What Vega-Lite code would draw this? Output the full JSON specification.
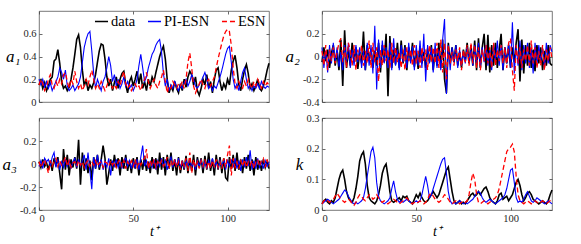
{
"$schema": "https://vega.github.io/schema/vega-lite/v6.json",
"padding": {"left": 1, "top": 10, "right": 5, "bottom": 3},
"datasets": {
"a1d": [{"t":0,"v":0.15},{"t":1,"v":0.19},{"t":2,"v":0.12},{"t":3,"v":0.17},{"t":4,"v":0.1},{"t":5,"v":0.14},{"t":6,"v":0.2},{"t":7,"v":0.22},{"t":8,"v":0.36},{"t":9,"v":0.38},{"t":10,"v":0.46},{"t":11,"v":0.34},{"t":12,"v":0.18},{"t":13,"v":0.12},{"t":14,"v":0.14},{"t":15,"v":0.1},{"t":16,"v":0.13},{"t":17,"v":0.2},{"t":18,"v":0.3},{"t":19,"v":0.42},{"t":20,"v":0.55},{"t":21,"v":0.59},{"t":22,"v":0.48},{"t":23,"v":0.28},{"t":24,"v":0.14},{"t":25,"v":0.2},{"t":26,"v":0.1},{"t":27,"v":0.15},{"t":28,"v":0.12},{"t":29,"v":0.17},{"t":30,"v":0.24},{"t":31,"v":0.35},{"t":32,"v":0.45},{"t":33,"v":0.51},{"t":34,"v":0.5},{"t":35,"v":0.38},{"t":36,"v":0.22},{"t":37,"v":0.14},{"t":38,"v":0.2},{"t":39,"v":0.1},{"t":40,"v":0.17},{"t":41,"v":0.22},{"t":42,"v":0.12},{"t":43,"v":0.2},{"t":44,"v":0.25},{"t":45,"v":0.27},{"t":46,"v":0.15},{"t":47,"v":0.08},{"t":48,"v":0.18},{"t":49,"v":0.22},{"t":50,"v":0.14},{"t":51,"v":0.2},{"t":52,"v":0.27},{"t":53,"v":0.16},{"t":54,"v":0.25},{"t":55,"v":0.12},{"t":56,"v":0.18},{"t":57,"v":0.1},{"t":58,"v":0.2},{"t":59,"v":0.14},{"t":60,"v":0.22},{"t":61,"v":0.18},{"t":62,"v":0.26},{"t":63,"v":0.33},{"t":64,"v":0.4},{"t":65,"v":0.45},{"t":66,"v":0.49},{"t":67,"v":0.38},{"t":68,"v":0.2},{"t":69,"v":0.08},{"t":70,"v":0.14},{"t":71,"v":0.1},{"t":72,"v":0.18},{"t":73,"v":0.12},{"t":74,"v":0.08},{"t":75,"v":0.16},{"t":76,"v":0.1},{"t":77,"v":0.2},{"t":78,"v":0.13},{"t":79,"v":0.22},{"t":80,"v":0.27},{"t":81,"v":0.24},{"t":82,"v":0.15},{"t":83,"v":0.22},{"t":84,"v":0.1},{"t":85,"v":0.06},{"t":86,"v":0.12},{"t":87,"v":0.2},{"t":88,"v":0.15},{"t":89,"v":0.24},{"t":90,"v":0.12},{"t":91,"v":0.18},{"t":92,"v":0.08},{"t":93,"v":0.2},{"t":94,"v":0.28},{"t":95,"v":0.3},{"t":96,"v":0.18},{"t":97,"v":0.1},{"t":98,"v":0.16},{"t":99,"v":0.12},{"t":100,"v":0.2},{"t":101,"v":0.15},{"t":102,"v":0.28},{"t":103,"v":0.36},{"t":104,"v":0.41},{"t":105,"v":0.3},{"t":106,"v":0.15},{"t":107,"v":0.1},{"t":108,"v":0.2},{"t":109,"v":0.28},{"t":110,"v":0.33},{"t":111,"v":0.25},{"t":112,"v":0.12},{"t":113,"v":0.16},{"t":114,"v":0.1},{"t":115,"v":0.14},{"t":116,"v":0.2},{"t":117,"v":0.12},{"t":118,"v":0.1},{"t":119,"v":0.14},{"t":120,"v":0.2},{"t":121,"v":0.28},{"t":122,"v":0.34}],
"a1p": [{"t":0,"v":0.2},{"t":1,"v":0.15},{"t":2,"v":0.2},{"t":3,"v":0.13},{"t":4,"v":0.18},{"t":5,"v":0.12},{"t":6,"v":0.17},{"t":7,"v":0.1},{"t":8,"v":0.14},{"t":9,"v":0.18},{"t":10,"v":0.22},{"t":11,"v":0.3},{"t":12,"v":0.26},{"t":13,"v":0.2},{"t":14,"v":0.28},{"t":15,"v":0.14},{"t":16,"v":0.1},{"t":17,"v":0.12},{"t":18,"v":0.15},{"t":19,"v":0.1},{"t":20,"v":0.13},{"t":21,"v":0.16},{"t":22,"v":0.22},{"t":23,"v":0.35},{"t":24,"v":0.48},{"t":25,"v":0.55},{"t":26,"v":0.6},{"t":27,"v":0.62},{"t":28,"v":0.45},{"t":29,"v":0.25},{"t":30,"v":0.12},{"t":31,"v":0.2},{"t":32,"v":0.15},{"t":33,"v":0.1},{"t":34,"v":0.18},{"t":35,"v":0.22},{"t":36,"v":0.3},{"t":37,"v":0.4},{"t":38,"v":0.32},{"t":39,"v":0.18},{"t":40,"v":0.24},{"t":41,"v":0.14},{"t":42,"v":0.2},{"t":43,"v":0.12},{"t":44,"v":0.16},{"t":45,"v":0.22},{"t":46,"v":0.14},{"t":47,"v":0.18},{"t":48,"v":0.12},{"t":49,"v":0.15},{"t":50,"v":0.1},{"t":51,"v":0.14},{"t":52,"v":0.2},{"t":53,"v":0.32},{"t":54,"v":0.42},{"t":55,"v":0.3},{"t":56,"v":0.18},{"t":57,"v":0.22},{"t":58,"v":0.3},{"t":59,"v":0.36},{"t":60,"v":0.42},{"t":61,"v":0.45},{"t":62,"v":0.5},{"t":63,"v":0.53},{"t":64,"v":0.55},{"t":65,"v":0.44},{"t":66,"v":0.25},{"t":67,"v":0.14},{"t":68,"v":0.2},{"t":69,"v":0.1},{"t":70,"v":0.15},{"t":71,"v":0.12},{"t":72,"v":0.18},{"t":73,"v":0.13},{"t":74,"v":0.1},{"t":75,"v":0.15},{"t":76,"v":0.12},{"t":77,"v":0.17},{"t":78,"v":0.2},{"t":79,"v":0.14},{"t":80,"v":0.18},{"t":81,"v":0.24},{"t":82,"v":0.2},{"t":83,"v":0.14},{"t":84,"v":0.12},{"t":85,"v":0.15},{"t":86,"v":0.18},{"t":87,"v":0.22},{"t":88,"v":0.26},{"t":89,"v":0.2},{"t":90,"v":0.12},{"t":91,"v":0.15},{"t":92,"v":0.1},{"t":93,"v":0.14},{"t":94,"v":0.12},{"t":95,"v":0.17},{"t":96,"v":0.22},{"t":97,"v":0.28},{"t":98,"v":0.35},{"t":99,"v":0.42},{"t":100,"v":0.47},{"t":101,"v":0.49},{"t":102,"v":0.35},{"t":103,"v":0.2},{"t":104,"v":0.12},{"t":105,"v":0.16},{"t":106,"v":0.1},{"t":107,"v":0.18},{"t":108,"v":0.26},{"t":109,"v":0.3},{"t":110,"v":0.2},{"t":111,"v":0.12},{"t":112,"v":0.15},{"t":113,"v":0.1},{"t":114,"v":0.14},{"t":115,"v":0.12},{"t":116,"v":0.16},{"t":117,"v":0.12},{"t":118,"v":0.18},{"t":119,"v":0.14},{"t":120,"v":0.12},{"t":121,"v":0.14},{"t":122,"v":0.13}],
"a1e": [{"t":0,"v":0.15},{"t":1,"v":0.2},{"t":2,"v":0.16},{"t":3,"v":0.1},{"t":4,"v":0.13},{"t":5,"v":0.2},{"t":6,"v":0.24},{"t":7,"v":0.15},{"t":8,"v":0.12},{"t":9,"v":0.18},{"t":10,"v":0.14},{"t":11,"v":0.2},{"t":12,"v":0.16},{"t":13,"v":0.24},{"t":14,"v":0.26},{"t":15,"v":0.18},{"t":16,"v":0.12},{"t":17,"v":0.2},{"t":18,"v":0.16},{"t":19,"v":0.27},{"t":20,"v":0.18},{"t":21,"v":0.12},{"t":22,"v":0.16},{"t":23,"v":0.1},{"t":24,"v":0.14},{"t":25,"v":0.2},{"t":26,"v":0.15},{"t":27,"v":0.22},{"t":28,"v":0.28},{"t":29,"v":0.2},{"t":30,"v":0.12},{"t":31,"v":0.16},{"t":32,"v":0.12},{"t":33,"v":0.18},{"t":34,"v":0.14},{"t":35,"v":0.1},{"t":36,"v":0.14},{"t":37,"v":0.2},{"t":38,"v":0.16},{"t":39,"v":0.12},{"t":40,"v":0.15},{"t":41,"v":0.12},{"t":42,"v":0.18},{"t":43,"v":0.14},{"t":44,"v":0.22},{"t":45,"v":0.27},{"t":46,"v":0.16},{"t":47,"v":0.12},{"t":48,"v":0.15},{"t":49,"v":0.1},{"t":50,"v":0.13},{"t":51,"v":0.16},{"t":52,"v":0.12},{"t":53,"v":0.14},{"t":54,"v":0.1},{"t":55,"v":0.16},{"t":56,"v":0.2},{"t":57,"v":0.26},{"t":58,"v":0.18},{"t":59,"v":0.12},{"t":60,"v":0.16},{"t":61,"v":0.2},{"t":62,"v":0.15},{"t":63,"v":0.12},{"t":64,"v":0.18},{"t":65,"v":0.22},{"t":66,"v":0.28},{"t":67,"v":0.18},{"t":68,"v":0.08},{"t":69,"v":0.14},{"t":70,"v":0.12},{"t":71,"v":0.18},{"t":72,"v":0.15},{"t":73,"v":0.12},{"t":74,"v":0.16},{"t":75,"v":0.14},{"t":76,"v":0.18},{"t":77,"v":0.12},{"t":78,"v":0.2},{"t":79,"v":0.35},{"t":80,"v":0.43},{"t":81,"v":0.3},{"t":82,"v":0.14},{"t":83,"v":0.08},{"t":84,"v":0.12},{"t":85,"v":0.16},{"t":86,"v":0.2},{"t":87,"v":0.15},{"t":88,"v":0.12},{"t":89,"v":0.18},{"t":90,"v":0.2},{"t":91,"v":0.14},{"t":92,"v":0.18},{"t":93,"v":0.22},{"t":94,"v":0.3},{"t":95,"v":0.38},{"t":96,"v":0.45},{"t":97,"v":0.52},{"t":98,"v":0.58},{"t":99,"v":0.62},{"t":100,"v":0.64},{"t":101,"v":0.62},{"t":102,"v":0.5},{"t":103,"v":0.3},{"t":104,"v":0.16},{"t":105,"v":0.12},{"t":106,"v":0.18},{"t":107,"v":0.14},{"t":108,"v":0.12},{"t":109,"v":0.18},{"t":110,"v":0.14},{"t":111,"v":0.2},{"t":112,"v":0.15},{"t":113,"v":0.12},{"t":114,"v":0.18},{"t":115,"v":0.14},{"t":116,"v":0.2},{"t":117,"v":0.16},{"t":118,"v":0.12},{"t":119,"v":0.18},{"t":120,"v":0.14},{"t":121,"v":0.17},{"t":122,"v":0.15}],
"a2d": [{"t":0,"v":-0.05},{"t":1,"v":0.08},{"t":2,"v":-0.04},{"t":3,"v":0.06},{"t":4,"v":-0.1},{"t":5,"v":0.03},{"t":6,"v":0.1},{"t":7,"v":-0.08},{"t":8,"v":0.05},{"t":9,"v":-0.12},{"t":10,"v":0.15},{"t":11,"v":-0.26},{"t":12,"v":0.23},{"t":13,"v":-0.1},{"t":14,"v":0.06},{"t":15,"v":-0.08},{"t":16,"v":0.12},{"t":17,"v":-0.05},{"t":18,"v":0.08},{"t":19,"v":-0.11},{"t":20,"v":0.04},{"t":21,"v":-0.06},{"t":22,"v":0.22},{"t":23,"v":-0.12},{"t":24,"v":0.1},{"t":25,"v":-0.04},{"t":26,"v":0.07},{"t":27,"v":-0.1},{"t":28,"v":0.05},{"t":29,"v":-0.08},{"t":30,"v":0.12},{"t":31,"v":-0.14},{"t":32,"v":0.1},{"t":33,"v":-0.05},{"t":34,"v":0.2},{"t":35,"v":-0.35},{"t":36,"v":0.18},{"t":37,"v":-0.1},{"t":38,"v":0.06},{"t":39,"v":-0.07},{"t":40,"v":0.12},{"t":41,"v":-0.1},{"t":42,"v":0.14},{"t":43,"v":-0.06},{"t":44,"v":0.1},{"t":45,"v":-0.12},{"t":46,"v":0.08},{"t":47,"v":-0.04},{"t":48,"v":0.12},{"t":49,"v":-0.09},{"t":50,"v":0.05},{"t":51,"v":-0.11},{"t":52,"v":0.09},{"t":53,"v":-0.06},{"t":54,"v":0.04},{"t":55,"v":-0.1},{"t":56,"v":0.07},{"t":57,"v":-0.05},{"t":58,"v":0.1},{"t":59,"v":-0.12},{"t":60,"v":0.06},{"t":61,"v":-0.08},{"t":62,"v":0.12},{"t":63,"v":-0.1},{"t":64,"v":0.15},{"t":65,"v":-0.2},{"t":66,"v":-0.32},{"t":67,"v":0.12},{"t":68,"v":-0.06},{"t":69,"v":0.08},{"t":70,"v":-0.05},{"t":71,"v":0.1},{"t":72,"v":-0.08},{"t":73,"v":0.04},{"t":74,"v":-0.1},{"t":75,"v":0.06},{"t":76,"v":-0.04},{"t":77,"v":0.12},{"t":78,"v":-0.06},{"t":79,"v":0.1},{"t":80,"v":-0.08},{"t":81,"v":0.14},{"t":82,"v":-0.12},{"t":83,"v":0.16},{"t":84,"v":-0.1},{"t":85,"v":0.08},{"t":86,"v":0.2},{"t":87,"v":-0.12},{"t":88,"v":0.19},{"t":89,"v":-0.14},{"t":90,"v":0.1},{"t":91,"v":-0.08},{"t":92,"v":0.12},{"t":93,"v":-0.1},{"t":94,"v":0.06},{"t":95,"v":0.2},{"t":96,"v":-0.12},{"t":97,"v":0.08},{"t":98,"v":-0.06},{"t":99,"v":0.1},{"t":100,"v":-0.1},{"t":101,"v":0.08},{"t":102,"v":-0.05},{"t":103,"v":0.12},{"t":104,"v":0.24},{"t":105,"v":-0.22},{"t":106,"v":0.15},{"t":107,"v":-0.15},{"t":108,"v":0.1},{"t":109,"v":-0.08},{"t":110,"v":0.12},{"t":111,"v":-0.1},{"t":112,"v":0.06},{"t":113,"v":-0.13},{"t":114,"v":0.1},{"t":115,"v":-0.06},{"t":116,"v":0.08},{"t":117,"v":-0.12},{"t":118,"v":0.05},{"t":119,"v":-0.08},{"t":120,"v":0.1},{"t":121,"v":-0.06},{"t":122,"v":-0.08}],
"a2p": [{"t":0,"v":0.08},{"t":1,"v":-0.1},{"t":2,"v":0.05},{"t":3,"v":-0.14},{"t":4,"v":0.1},{"t":5,"v":-0.06},{"t":6,"v":0.12},{"t":7,"v":-0.04},{"t":8,"v":0.08},{"t":9,"v":-0.09},{"t":10,"v":0.04},{"t":11,"v":-0.12},{"t":12,"v":0.1},{"t":13,"v":-0.05},{"t":14,"v":0.12},{"t":15,"v":-0.1},{"t":16,"v":0.06},{"t":17,"v":-0.08},{"t":18,"v":0.1},{"t":19,"v":-0.05},{"t":20,"v":0.08},{"t":21,"v":-0.1},{"t":22,"v":0.05},{"t":23,"v":-0.12},{"t":24,"v":0.12},{"t":25,"v":-0.08},{"t":26,"v":0.1},{"t":27,"v":-0.15},{"t":28,"v":0.27},{"t":29,"v":-0.29},{"t":30,"v":0.15},{"t":31,"v":-0.1},{"t":32,"v":0.14},{"t":33,"v":-0.06},{"t":34,"v":0.08},{"t":35,"v":-0.1},{"t":36,"v":0.12},{"t":37,"v":-0.12},{"t":38,"v":0.16},{"t":39,"v":-0.08},{"t":40,"v":0.06},{"t":41,"v":-0.12},{"t":42,"v":0.1},{"t":43,"v":-0.05},{"t":44,"v":0.08},{"t":45,"v":-0.1},{"t":46,"v":0.12},{"t":47,"v":-0.06},{"t":48,"v":0.09},{"t":49,"v":-0.12},{"t":50,"v":0.1},{"t":51,"v":-0.08},{"t":52,"v":0.14},{"t":53,"v":-0.1},{"t":54,"v":0.2},{"t":55,"v":-0.22},{"t":56,"v":0.1},{"t":57,"v":-0.06},{"t":58,"v":0.08},{"t":59,"v":-0.14},{"t":60,"v":0.12},{"t":61,"v":-0.1},{"t":62,"v":0.06},{"t":63,"v":-0.12},{"t":64,"v":0.15},{"t":65,"v":0.33},{"t":66,"v":-0.33},{"t":67,"v":0.1},{"t":68,"v":-0.12},{"t":69,"v":0.08},{"t":70,"v":-0.05},{"t":71,"v":0.1},{"t":72,"v":-0.1},{"t":73,"v":0.06},{"t":74,"v":-0.08},{"t":75,"v":0.05},{"t":76,"v":-0.06},{"t":77,"v":0.08},{"t":78,"v":-0.04},{"t":79,"v":0.06},{"t":80,"v":-0.08},{"t":81,"v":0.1},{"t":82,"v":-0.06},{"t":83,"v":0.12},{"t":84,"v":-0.1},{"t":85,"v":0.08},{"t":86,"v":-0.05},{"t":87,"v":0.1},{"t":88,"v":-0.08},{"t":89,"v":0.06},{"t":90,"v":-0.12},{"t":91,"v":0.1},{"t":92,"v":-0.04},{"t":93,"v":0.14},{"t":94,"v":-0.08},{"t":95,"v":0.1},{"t":96,"v":-0.12},{"t":97,"v":0.08},{"t":98,"v":-0.06},{"t":99,"v":0.12},{"t":100,"v":-0.1},{"t":101,"v":0.3},{"t":102,"v":-0.15},{"t":103,"v":0.1},{"t":104,"v":-0.08},{"t":105,"v":0.14},{"t":106,"v":-0.12},{"t":107,"v":0.1},{"t":108,"v":-0.06},{"t":109,"v":0.12},{"t":110,"v":-0.1},{"t":111,"v":0.08},{"t":112,"v":-0.15},{"t":113,"v":0.12},{"t":114,"v":-0.08},{"t":115,"v":0.1},{"t":116,"v":-0.05},{"t":117,"v":0.08},{"t":118,"v":-0.1},{"t":119,"v":0.12},{"t":120,"v":-0.06},{"t":121,"v":0.1},{"t":122,"v":0.04}],
"a2e": [{"t":0,"v":0.05},{"t":1,"v":-0.08},{"t":2,"v":0.1},{"t":3,"v":-0.12},{"t":4,"v":0.06},{"t":5,"v":-0.04},{"t":6,"v":0.08},{"t":7,"v":-0.06},{"t":8,"v":0.04},{"t":9,"v":0.12},{"t":10,"v":0.16},{"t":11,"v":-0.05},{"t":12,"v":0.08},{"t":13,"v":-0.1},{"t":14,"v":0.12},{"t":15,"v":0.05},{"t":16,"v":-0.08},{"t":17,"v":0.1},{"t":18,"v":-0.12},{"t":19,"v":0.06},{"t":20,"v":-0.04},{"t":21,"v":0.1},{"t":22,"v":-0.08},{"t":23,"v":0.05},{"t":24,"v":-0.06},{"t":25,"v":0.14},{"t":26,"v":-0.1},{"t":27,"v":0.12},{"t":28,"v":-0.05},{"t":29,"v":0.08},{"t":30,"v":-0.22},{"t":31,"v":0.06},{"t":32,"v":-0.08},{"t":33,"v":0.1},{"t":34,"v":-0.04},{"t":35,"v":0.06},{"t":36,"v":-0.1},{"t":37,"v":0.12},{"t":38,"v":-0.06},{"t":39,"v":0.08},{"t":40,"v":-0.05},{"t":41,"v":0.04},{"t":42,"v":-0.1},{"t":43,"v":0.06},{"t":44,"v":-0.12},{"t":45,"v":0.08},{"t":46,"v":-0.04},{"t":47,"v":0.06},{"t":48,"v":-0.08},{"t":49,"v":0.1},{"t":50,"v":-0.06},{"t":51,"v":0.05},{"t":52,"v":-0.1},{"t":53,"v":0.08},{"t":54,"v":-0.04},{"t":55,"v":0.06},{"t":56,"v":-0.12},{"t":57,"v":0.1},{"t":58,"v":-0.05},{"t":59,"v":0.08},{"t":60,"v":-0.06},{"t":61,"v":0.12},{"t":62,"v":-0.1},{"t":63,"v":0.15},{"t":64,"v":-0.14},{"t":65,"v":0.12},{"t":66,"v":-0.2},{"t":67,"v":0.1},{"t":68,"v":-0.06},{"t":69,"v":0.04},{"t":70,"v":-0.08},{"t":71,"v":0.06},{"t":72,"v":-0.04},{"t":73,"v":0.08},{"t":74,"v":-0.12},{"t":75,"v":0.06},{"t":76,"v":-0.05},{"t":77,"v":0.1},{"t":78,"v":-0.08},{"t":79,"v":0.12},{"t":80,"v":-0.06},{"t":81,"v":0.1},{"t":82,"v":-0.1},{"t":83,"v":0.08},{"t":84,"v":-0.12},{"t":85,"v":0.06},{"t":86,"v":-0.04},{"t":87,"v":0.1},{"t":88,"v":-0.06},{"t":89,"v":0.08},{"t":90,"v":-0.1},{"t":91,"v":0.12},{"t":92,"v":-0.08},{"t":93,"v":0.06},{"t":94,"v":-0.04},{"t":95,"v":0.1},{"t":96,"v":-0.06},{"t":97,"v":0.08},{"t":98,"v":-0.1},{"t":99,"v":0.12},{"t":100,"v":0.16},{"t":101,"v":-0.12},{"t":102,"v":-0.3},{"t":103,"v":0.1},{"t":104,"v":-0.06},{"t":105,"v":0.08},{"t":106,"v":-0.1},{"t":107,"v":0.06},{"t":108,"v":-0.04},{"t":109,"v":0.1},{"t":110,"v":-0.08},{"t":111,"v":0.14},{"t":112,"v":-0.06},{"t":113,"v":0.08},{"t":114,"v":-0.1},{"t":115,"v":0.05},{"t":116,"v":-0.08},{"t":117,"v":0.1},{"t":118,"v":-0.12},{"t":119,"v":0.06},{"t":120,"v":-0.04},{"t":121,"v":0.08},{"t":122,"v":-0.02}],
"a3d": [{"t":0,"v":0.02},{"t":1,"v":-0.03},{"t":2,"v":0.04},{"t":3,"v":-0.02},{"t":4,"v":0.01},{"t":5,"v":-0.05},{"t":6,"v":0.03},{"t":7,"v":-0.06},{"t":8,"v":0.05},{"t":9,"v":-0.02},{"t":10,"v":0.06},{"t":11,"v":-0.08},{"t":12,"v":-0.22},{"t":13,"v":0.13},{"t":14,"v":-0.05},{"t":15,"v":0.08},{"t":16,"v":-0.1},{"t":17,"v":0.04},{"t":18,"v":-0.03},{"t":19,"v":0.06},{"t":20,"v":-0.04},{"t":21,"v":0.21},{"t":22,"v":-0.18},{"t":23,"v":0.1},{"t":24,"v":-0.06},{"t":25,"v":0.05},{"t":26,"v":-0.08},{"t":27,"v":0.03},{"t":28,"v":-0.14},{"t":29,"v":0.06},{"t":30,"v":-0.04},{"t":31,"v":0.08},{"t":32,"v":-0.05},{"t":33,"v":0.04},{"t":34,"v":0.16},{"t":35,"v":0.05},{"t":36,"v":-0.18},{"t":37,"v":-0.08},{"t":38,"v":0.04},{"t":39,"v":-0.06},{"t":40,"v":0.08},{"t":41,"v":-0.03},{"t":42,"v":0.05},{"t":43,"v":-0.1},{"t":44,"v":0.06},{"t":45,"v":-0.04},{"t":46,"v":0.08},{"t":47,"v":-0.06},{"t":48,"v":0.03},{"t":49,"v":-0.08},{"t":50,"v":0.05},{"t":51,"v":-0.04},{"t":52,"v":0.06},{"t":53,"v":-0.1},{"t":54,"v":0.04},{"t":55,"v":-0.05},{"t":56,"v":0.07},{"t":57,"v":-0.06},{"t":58,"v":0.02},{"t":59,"v":-0.08},{"t":60,"v":0.06},{"t":61,"v":-0.04},{"t":62,"v":0.05},{"t":63,"v":-0.09},{"t":64,"v":0.1},{"t":65,"v":-0.05},{"t":66,"v":0.06},{"t":67,"v":-0.1},{"t":68,"v":0.08},{"t":69,"v":-0.04},{"t":70,"v":0.1},{"t":71,"v":-0.06},{"t":72,"v":0.04},{"t":73,"v":-0.1},{"t":74,"v":0.06},{"t":75,"v":-0.08},{"t":76,"v":0.03},{"t":77,"v":-0.05},{"t":78,"v":0.07},{"t":79,"v":-0.08},{"t":80,"v":0.05},{"t":81,"v":-0.06},{"t":82,"v":0.08},{"t":83,"v":-0.1},{"t":84,"v":0.06},{"t":85,"v":-0.03},{"t":86,"v":0.05},{"t":87,"v":-0.08},{"t":88,"v":0.07},{"t":89,"v":-0.05},{"t":90,"v":0.1},{"t":91,"v":-0.06},{"t":92,"v":0.04},{"t":93,"v":-0.1},{"t":94,"v":0.08},{"t":95,"v":-0.05},{"t":96,"v":0.06},{"t":97,"v":-0.08},{"t":98,"v":0.05},{"t":99,"v":-0.12},{"t":100,"v":-0.14},{"t":101,"v":0.06},{"t":102,"v":-0.04},{"t":103,"v":0.08},{"t":104,"v":-0.06},{"t":105,"v":0.1},{"t":106,"v":-0.05},{"t":107,"v":0.04},{"t":108,"v":-0.08},{"t":109,"v":0.06},{"t":110,"v":-0.04},{"t":111,"v":0.08},{"t":112,"v":-0.06},{"t":113,"v":0.04},{"t":114,"v":-0.1},{"t":115,"v":0.06},{"t":116,"v":-0.05},{"t":117,"v":0.03},{"t":118,"v":-0.06},{"t":119,"v":0.04},{"t":120,"v":-0.03},{"t":121,"v":0.02},{"t":122,"v":-0.04}],
"a3p": [{"t":0,"v":-0.02},{"t":1,"v":0.03},{"t":2,"v":-0.04},{"t":3,"v":0.05},{"t":4,"v":0.02},{"t":5,"v":0.04},{"t":6,"v":-0.02},{"t":7,"v":0.06},{"t":8,"v":0.1},{"t":9,"v":-0.03},{"t":10,"v":0.04},{"t":11,"v":-0.05},{"t":12,"v":0.02},{"t":13,"v":-0.03},{"t":14,"v":0.04},{"t":15,"v":-0.02},{"t":16,"v":0.03},{"t":17,"v":-0.04},{"t":18,"v":0.02},{"t":19,"v":0.05},{"t":20,"v":-0.03},{"t":21,"v":0.04},{"t":22,"v":-0.02},{"t":23,"v":0.03},{"t":24,"v":0.08},{"t":25,"v":-0.05},{"t":26,"v":0.1},{"t":27,"v":-0.06},{"t":28,"v":-0.22},{"t":29,"v":0.06},{"t":30,"v":-0.04},{"t":31,"v":0.08},{"t":32,"v":-0.03},{"t":33,"v":0.04},{"t":34,"v":-0.05},{"t":35,"v":0.02},{"t":36,"v":-0.03},{"t":37,"v":0.05},{"t":38,"v":-0.1},{"t":39,"v":0.03},{"t":40,"v":-0.02},{"t":41,"v":0.04},{"t":42,"v":-0.03},{"t":43,"v":0.02},{"t":44,"v":-0.04},{"t":45,"v":0.03},{"t":46,"v":0.05},{"t":47,"v":-0.02},{"t":48,"v":0.03},{"t":49,"v":-0.04},{"t":50,"v":0.02},{"t":51,"v":-0.03},{"t":52,"v":0.04},{"t":53,"v":-0.05},{"t":54,"v":0.06},{"t":55,"v":0.16},{"t":56,"v":-0.02},{"t":57,"v":0.03},{"t":58,"v":-0.04},{"t":59,"v":0.02},{"t":60,"v":-0.03},{"t":61,"v":0.04},{"t":62,"v":-0.05},{"t":63,"v":0.03},{"t":64,"v":-0.02},{"t":65,"v":0.05},{"t":66,"v":-0.03},{"t":67,"v":0.04},{"t":68,"v":-0.05},{"t":69,"v":0.02},{"t":70,"v":0.06},{"t":71,"v":-0.03},{"t":72,"v":0.04},{"t":73,"v":-0.02},{"t":74,"v":0.05},{"t":75,"v":-0.03},{"t":76,"v":0.02},{"t":77,"v":-0.04},{"t":78,"v":0.03},{"t":79,"v":-0.02},{"t":80,"v":0.04},{"t":81,"v":-0.03},{"t":82,"v":0.02},{"t":83,"v":-0.05},{"t":84,"v":0.03},{"t":85,"v":-0.02},{"t":86,"v":0.04},{"t":87,"v":-0.03},{"t":88,"v":0.02},{"t":89,"v":-0.04},{"t":90,"v":0.03},{"t":91,"v":-0.02},{"t":92,"v":0.05},{"t":93,"v":-0.03},{"t":94,"v":0.02},{"t":95,"v":-0.04},{"t":96,"v":0.03},{"t":97,"v":-0.02},{"t":98,"v":0.04},{"t":99,"v":-0.05},{"t":100,"v":0.03},{"t":101,"v":-0.02},{"t":102,"v":0.04},{"t":103,"v":-0.03},{"t":104,"v":0.05},{"t":105,"v":-0.04},{"t":106,"v":0.03},{"t":107,"v":-0.06},{"t":108,"v":0.04},{"t":109,"v":-0.03},{"t":110,"v":0.06},{"t":111,"v":-0.02},{"t":112,"v":0.12},{"t":113,"v":-0.05},{"t":114,"v":0.03},{"t":115,"v":-0.04},{"t":116,"v":0.05},{"t":117,"v":-0.03},{"t":118,"v":0.02},{"t":119,"v":-0.04},{"t":120,"v":0.03},{"t":121,"v":-0.02},{"t":122,"v":0.02}],
"a3e": [{"t":0,"v":0.02},{"t":1,"v":-0.03},{"t":2,"v":0.01},{"t":3,"v":0.04},{"t":4,"v":-0.02},{"t":5,"v":-0.08},{"t":6,"v":0.03},{"t":7,"v":-0.02},{"t":8,"v":0.02},{"t":9,"v":0.05},{"t":10,"v":-0.02},{"t":11,"v":0.03},{"t":12,"v":-0.01},{"t":13,"v":0.02},{"t":14,"v":0.06},{"t":15,"v":-0.02},{"t":16,"v":0.03},{"t":17,"v":-0.03},{"t":18,"v":0.01},{"t":19,"v":0.02},{"t":20,"v":-0.02},{"t":21,"v":0.03},{"t":22,"v":-0.01},{"t":23,"v":0.02},{"t":24,"v":-0.03},{"t":25,"v":0.01},{"t":26,"v":0.03},{"t":27,"v":-0.02},{"t":28,"v":0.02},{"t":29,"v":-0.01},{"t":30,"v":0.03},{"t":31,"v":-0.02},{"t":32,"v":0.01},{"t":33,"v":0.02},{"t":34,"v":-0.03},{"t":35,"v":0.02},{"t":36,"v":0.01},{"t":37,"v":-0.02},{"t":38,"v":0.03},{"t":39,"v":-0.01},{"t":40,"v":0.02},{"t":41,"v":-0.03},{"t":42,"v":0.02},{"t":43,"v":0.04},{"t":44,"v":-0.02},{"t":45,"v":0.03},{"t":46,"v":-0.04},{"t":47,"v":0.02},{"t":48,"v":-0.01},{"t":49,"v":0.03},{"t":50,"v":-0.02},{"t":51,"v":0.04},{"t":52,"v":-0.03},{"t":53,"v":0.02},{"t":54,"v":-0.01},{"t":55,"v":0.03},{"t":56,"v":0.05},{"t":57,"v":0.13},{"t":58,"v":-0.04},{"t":59,"v":0.03},{"t":60,"v":-0.02},{"t":61,"v":0.04},{"t":62,"v":-0.03},{"t":63,"v":0.02},{"t":64,"v":-0.01},{"t":65,"v":0.03},{"t":66,"v":-0.02},{"t":67,"v":0.01},{"t":68,"v":0.06},{"t":69,"v":-0.04},{"t":70,"v":0.03},{"t":71,"v":-0.02},{"t":72,"v":0.04},{"t":73,"v":-0.03},{"t":74,"v":0.02},{"t":75,"v":-0.05},{"t":76,"v":0.03},{"t":77,"v":-0.02},{"t":78,"v":0.05},{"t":79,"v":-0.06},{"t":80,"v":0.1},{"t":81,"v":-0.08},{"t":82,"v":0.04},{"t":83,"v":-0.03},{"t":84,"v":0.02},{"t":85,"v":-0.04},{"t":86,"v":0.03},{"t":87,"v":-0.02},{"t":88,"v":0.04},{"t":89,"v":-0.03},{"t":90,"v":0.02},{"t":91,"v":-0.04},{"t":92,"v":0.03},{"t":93,"v":-0.02},{"t":94,"v":0.04},{"t":95,"v":-0.03},{"t":96,"v":0.02},{"t":97,"v":-0.04},{"t":98,"v":0.05},{"t":99,"v":-0.03},{"t":100,"v":0.08},{"t":101,"v":0.16},{"t":102,"v":-0.1},{"t":103,"v":0.05},{"t":104,"v":-0.03},{"t":105,"v":0.02},{"t":106,"v":-0.04},{"t":107,"v":0.03},{"t":108,"v":-0.02},{"t":109,"v":0.04},{"t":110,"v":-0.03},{"t":111,"v":0.02},{"t":112,"v":-0.01},{"t":113,"v":0.03},{"t":114,"v":-0.04},{"t":115,"v":0.02},{"t":116,"v":0.04},{"t":117,"v":-0.02},{"t":118,"v":0.03},{"t":119,"v":0.05},{"t":120,"v":-0.03},{"t":121,"v":0.04},{"t":122,"v":-0.02}],
"kd": [{"t":0,"v":0.02},{"t":1,"v":0.03},{"t":2,"v":0.035},{"t":3,"v":0.025},{"t":4,"v":0.02},{"t":5,"v":0.03},{"t":6,"v":0.025},{"t":7,"v":0.04},{"t":8,"v":0.07},{"t":9,"v":0.1},{"t":10,"v":0.12},{"t":11,"v":0.13},{"t":12,"v":0.1},{"t":13,"v":0.06},{"t":14,"v":0.04},{"t":15,"v":0.03},{"t":16,"v":0.025},{"t":17,"v":0.04},{"t":18,"v":0.07},{"t":19,"v":0.11},{"t":20,"v":0.16},{"t":21,"v":0.18},{"t":22,"v":0.19},{"t":23,"v":0.15},{"t":24,"v":0.08},{"t":25,"v":0.04},{"t":26,"v":0.03},{"t":27,"v":0.025},{"t":28,"v":0.02},{"t":29,"v":0.03},{"t":30,"v":0.05},{"t":31,"v":0.08},{"t":32,"v":0.12},{"t":33,"v":0.14},{"t":34,"v":0.15},{"t":35,"v":0.11},{"t":36,"v":0.06},{"t":37,"v":0.03},{"t":38,"v":0.025},{"t":39,"v":0.03},{"t":40,"v":0.035},{"t":41,"v":0.04},{"t":42,"v":0.03},{"t":43,"v":0.045},{"t":44,"v":0.04},{"t":45,"v":0.045},{"t":46,"v":0.03},{"t":47,"v":0.025},{"t":48,"v":0.02},{"t":49,"v":0.035},{"t":50,"v":0.05},{"t":51,"v":0.04},{"t":52,"v":0.055},{"t":53,"v":0.04},{"t":54,"v":0.03},{"t":55,"v":0.025},{"t":56,"v":0.03},{"t":57,"v":0.04},{"t":58,"v":0.05},{"t":59,"v":0.06},{"t":60,"v":0.05},{"t":61,"v":0.04},{"t":62,"v":0.05},{"t":63,"v":0.07},{"t":64,"v":0.09},{"t":65,"v":0.11},{"t":66,"v":0.13},{"t":67,"v":0.14},{"t":68,"v":0.1},{"t":69,"v":0.06},{"t":70,"v":0.03},{"t":71,"v":0.02},{"t":72,"v":0.025},{"t":73,"v":0.03},{"t":74,"v":0.02},{"t":75,"v":0.025},{"t":76,"v":0.02},{"t":77,"v":0.03},{"t":78,"v":0.04},{"t":79,"v":0.05},{"t":80,"v":0.055},{"t":81,"v":0.045},{"t":82,"v":0.05},{"t":83,"v":0.06},{"t":84,"v":0.05},{"t":85,"v":0.06},{"t":86,"v":0.07},{"t":87,"v":0.075},{"t":88,"v":0.06},{"t":89,"v":0.04},{"t":90,"v":0.03},{"t":91,"v":0.025},{"t":92,"v":0.02},{"t":93,"v":0.03},{"t":94,"v":0.05},{"t":95,"v":0.055},{"t":96,"v":0.035},{"t":97,"v":0.04},{"t":98,"v":0.045},{"t":99,"v":0.03},{"t":100,"v":0.04},{"t":101,"v":0.05},{"t":102,"v":0.07},{"t":103,"v":0.09},{"t":104,"v":0.1},{"t":105,"v":0.08},{"t":106,"v":0.05},{"t":107,"v":0.03},{"t":108,"v":0.04},{"t":109,"v":0.055},{"t":110,"v":0.06},{"t":111,"v":0.05},{"t":112,"v":0.035},{"t":113,"v":0.03},{"t":114,"v":0.025},{"t":115,"v":0.02},{"t":116,"v":0.025},{"t":117,"v":0.03},{"t":118,"v":0.025},{"t":119,"v":0.02},{"t":120,"v":0.03},{"t":121,"v":0.05},{"t":122,"v":0.065}],
"kp": [{"t":0,"v":0.02},{"t":1,"v":0.025},{"t":2,"v":0.03},{"t":3,"v":0.035},{"t":4,"v":0.03},{"t":5,"v":0.025},{"t":6,"v":0.02},{"t":7,"v":0.025},{"t":8,"v":0.03},{"t":9,"v":0.035},{"t":10,"v":0.045},{"t":11,"v":0.055},{"t":12,"v":0.065},{"t":13,"v":0.06},{"t":14,"v":0.045},{"t":15,"v":0.035},{"t":16,"v":0.025},{"t":17,"v":0.02},{"t":18,"v":0.025},{"t":19,"v":0.02},{"t":20,"v":0.025},{"t":21,"v":0.03},{"t":22,"v":0.04},{"t":23,"v":0.07},{"t":24,"v":0.11},{"t":25,"v":0.15},{"t":26,"v":0.19},{"t":27,"v":0.205},{"t":28,"v":0.17},{"t":29,"v":0.09},{"t":30,"v":0.045},{"t":31,"v":0.03},{"t":32,"v":0.025},{"t":33,"v":0.02},{"t":34,"v":0.025},{"t":35,"v":0.03},{"t":36,"v":0.04},{"t":37,"v":0.07},{"t":38,"v":0.095},{"t":39,"v":0.06},{"t":40,"v":0.035},{"t":41,"v":0.025},{"t":42,"v":0.03},{"t":43,"v":0.025},{"t":44,"v":0.03},{"t":45,"v":0.035},{"t":46,"v":0.03},{"t":47,"v":0.025},{"t":48,"v":0.02},{"t":49,"v":0.025},{"t":50,"v":0.03},{"t":51,"v":0.025},{"t":52,"v":0.03},{"t":53,"v":0.05},{"t":54,"v":0.08},{"t":55,"v":0.11},{"t":56,"v":0.08},{"t":57,"v":0.04},{"t":58,"v":0.05},{"t":59,"v":0.07},{"t":60,"v":0.09},{"t":61,"v":0.11},{"t":62,"v":0.13},{"t":63,"v":0.15},{"t":64,"v":0.165},{"t":65,"v":0.17},{"t":66,"v":0.12},{"t":67,"v":0.06},{"t":68,"v":0.03},{"t":69,"v":0.02},{"t":70,"v":0.025},{"t":71,"v":0.02},{"t":72,"v":0.025},{"t":73,"v":0.03},{"t":74,"v":0.025},{"t":75,"v":0.02},{"t":76,"v":0.025},{"t":77,"v":0.02},{"t":78,"v":0.025},{"t":79,"v":0.03},{"t":80,"v":0.035},{"t":81,"v":0.045},{"t":82,"v":0.055},{"t":83,"v":0.06},{"t":84,"v":0.055},{"t":85,"v":0.04},{"t":86,"v":0.03},{"t":87,"v":0.025},{"t":88,"v":0.03},{"t":89,"v":0.035},{"t":90,"v":0.03},{"t":91,"v":0.025},{"t":92,"v":0.02},{"t":93,"v":0.025},{"t":94,"v":0.03},{"t":95,"v":0.035},{"t":96,"v":0.04},{"t":97,"v":0.05},{"t":98,"v":0.07},{"t":99,"v":0.1},{"t":100,"v":0.13},{"t":101,"v":0.135},{"t":102,"v":0.09},{"t":103,"v":0.04},{"t":104,"v":0.025},{"t":105,"v":0.03},{"t":106,"v":0.025},{"t":107,"v":0.035},{"t":108,"v":0.05},{"t":109,"v":0.06},{"t":110,"v":0.045},{"t":111,"v":0.03},{"t":112,"v":0.025},{"t":113,"v":0.03},{"t":114,"v":0.04},{"t":115,"v":0.035},{"t":116,"v":0.03},{"t":117,"v":0.025},{"t":118,"v":0.02},{"t":119,"v":0.025},{"t":120,"v":0.03},{"t":121,"v":0.025},{"t":122,"v":0.02}],
"ke": [{"t":0,"v":0.02},{"t":1,"v":0.03},{"t":2,"v":0.035},{"t":3,"v":0.03},{"t":4,"v":0.025},{"t":5,"v":0.03},{"t":6,"v":0.035},{"t":7,"v":0.045},{"t":8,"v":0.055},{"t":9,"v":0.045},{"t":10,"v":0.035},{"t":11,"v":0.03},{"t":12,"v":0.025},{"t":13,"v":0.03},{"t":14,"v":0.035},{"t":15,"v":0.03},{"t":16,"v":0.02},{"t":17,"v":0.015},{"t":18,"v":0.025},{"t":19,"v":0.04},{"t":20,"v":0.05},{"t":21,"v":0.045},{"t":22,"v":0.035},{"t":23,"v":0.03},{"t":24,"v":0.04},{"t":25,"v":0.05},{"t":26,"v":0.045},{"t":27,"v":0.035},{"t":28,"v":0.04},{"t":29,"v":0.05},{"t":30,"v":0.04},{"t":31,"v":0.03},{"t":32,"v":0.025},{"t":33,"v":0.03},{"t":34,"v":0.025},{"t":35,"v":0.02},{"t":36,"v":0.025},{"t":37,"v":0.03},{"t":38,"v":0.035},{"t":39,"v":0.03},{"t":40,"v":0.025},{"t":41,"v":0.02},{"t":42,"v":0.025},{"t":43,"v":0.03},{"t":44,"v":0.035},{"t":45,"v":0.04},{"t":46,"v":0.03},{"t":47,"v":0.025},{"t":48,"v":0.02},{"t":49,"v":0.025},{"t":50,"v":0.02},{"t":51,"v":0.025},{"t":52,"v":0.03},{"t":53,"v":0.025},{"t":54,"v":0.02},{"t":55,"v":0.025},{"t":56,"v":0.035},{"t":57,"v":0.05},{"t":58,"v":0.055},{"t":59,"v":0.045},{"t":60,"v":0.035},{"t":61,"v":0.03},{"t":62,"v":0.025},{"t":63,"v":0.03},{"t":64,"v":0.04},{"t":65,"v":0.05},{"t":66,"v":0.045},{"t":67,"v":0.035},{"t":68,"v":0.025},{"t":69,"v":0.02},{"t":70,"v":0.025},{"t":71,"v":0.03},{"t":72,"v":0.025},{"t":73,"v":0.02},{"t":74,"v":0.025},{"t":75,"v":0.03},{"t":76,"v":0.025},{"t":77,"v":0.03},{"t":78,"v":0.05},{"t":79,"v":0.09},{"t":80,"v":0.12},{"t":81,"v":0.1},{"t":82,"v":0.05},{"t":83,"v":0.025},{"t":84,"v":0.02},{"t":85,"v":0.025},{"t":86,"v":0.03},{"t":87,"v":0.025},{"t":88,"v":0.02},{"t":89,"v":0.025},{"t":90,"v":0.03},{"t":91,"v":0.035},{"t":92,"v":0.04},{"t":93,"v":0.05},{"t":94,"v":0.07},{"t":95,"v":0.1},{"t":96,"v":0.13},{"t":97,"v":0.16},{"t":98,"v":0.19},{"t":99,"v":0.2},{"t":100,"v":0.205},{"t":101,"v":0.215},{"t":102,"v":0.19},{"t":103,"v":0.11},{"t":104,"v":0.05},{"t":105,"v":0.03},{"t":106,"v":0.025},{"t":107,"v":0.02},{"t":108,"v":0.025},{"t":109,"v":0.03},{"t":110,"v":0.025},{"t":111,"v":0.02},{"t":112,"v":0.025},{"t":113,"v":0.03},{"t":114,"v":0.025},{"t":115,"v":0.02},{"t":116,"v":0.025},{"t":117,"v":0.03},{"t":118,"v":0.025},{"t":119,"v":0.02},{"t":120,"v":0.025},{"t":121,"v":0.03},{"t":122,"v":0.025}]
},
"columns": 2,
"spacing": {"row": 16, "column": 53},
"bounds": "flush",
"resolve": {"scale": {"color": "independent", "strokeDash": "independent"}, "legend": {"color": "independent", "strokeDash": "independent"}},
"concat": [
{"width": 230, "height": 91,
 "resolve": {"axis": {"x": "independent", "y": "independent"}},
 "layer": [
  {"data": {"name": "a1d"}, "mark": {"type": "line", "strokeWidth": 1.6},
   "encoding": {
    "x": {"field": "t", "type": "quantitative", "scale": {"domain": [0, 122], "nice": false, "zero": false}, "axis": {"values": [0, 50, 100], "labels": false, "title": null}},
    "y": {"field": "v", "type": "quantitative", "scale": {"domain": [0, 0.8], "nice": false}, "axis": {"values": [0, 0.2, 0.4, 0.6], "labelExpr": "datum.value + ''", "title": "a₁"}},
    "color": {"datum": "data", "type": "nominal", "scale": {"domain": ["data", "PI-ESN", "ESN"], "range": ["#000000", "#0000ff", "#ff0000"]},
      "legend": {"orient": "top-right", "direction": "horizontal", "title": null, "symbolType": "stroke", "symbolSize": 170, "symbolStrokeWidth": 1.5, "labelFont": "Liberation Serif", "labelFontSize": 14.5, "labelColor": "black", "columnPadding": 8, "labelOffset": 2, "offset": 3, "padding": 0}},
    "strokeDash": {"datum": "data", "type": "nominal", "scale": {"domain": ["data", "PI-ESN", "ESN"], "range": [[1, 0], [1, 0], [5, 3]]},
      "legend": {"orient": "top-right", "direction": "horizontal", "title": null, "symbolType": "stroke", "symbolSize": 170, "symbolStrokeWidth": 1.5, "labelFont": "Liberation Serif", "labelFontSize": 14.5, "labelColor": "black", "columnPadding": 8, "labelOffset": 2, "offset": 3, "padding": 0}}
   }},
  {"data": {"name": "a1p"}, "mark": {"type": "line", "strokeWidth": 1.1},
   "encoding": {
    "x": {"field": "t", "type": "quantitative", "scale": {"domain": [0, 122], "nice": false, "zero": false}, "axis": {"orient": "top", "values": [0, 50, 100], "labels": false, "title": null}},
    "y": {"field": "v", "type": "quantitative", "scale": {"domain": [0, 0.8], "nice": false}, "axis": {"orient": "right", "values": [0, 0.2, 0.4, 0.6], "labels": false, "title": null}},
    "color": {"datum": "PI-ESN", "type": "nominal"},
    "strokeDash": {"datum": "PI-ESN", "type": "nominal"}
   }},
  {"data": {"name": "a1e"}, "mark": {"type": "line", "strokeWidth": 1.3},
   "encoding": {
    "x": {"field": "t", "type": "quantitative", "scale": {"domain": [0, 122], "nice": false, "zero": false}, "axis": null},
    "y": {"field": "v", "type": "quantitative", "scale": {"domain": [0, 0.8], "nice": false}, "axis": null},
    "color": {"datum": "ESN", "type": "nominal"},
    "strokeDash": {"datum": "ESN", "type": "nominal"}
   }}
 ]},
{"width": 230, "height": 91,
 "resolve": {"axis": {"x": "independent", "y": "independent"}},
 "layer": [
  {"data": {"name": "a2d"}, "mark": {"type": "line", "color": "#000000", "strokeWidth": 1.6},
   "encoding": {
    "x": {"field": "t", "type": "quantitative", "scale": {"domain": [0, 122], "nice": false, "zero": false}, "axis": {"values": [0, 50, 100], "labels": false, "title": null}},
    "y": {"field": "v", "type": "quantitative", "scale": {"domain": [-0.4, 0.4], "nice": false}, "axis": {"values": [-0.4, -0.2, 0, 0.2], "labelExpr": "datum.value + ''", "title": "a₂"}}
   }},
  {"data": {"name": "a2p"}, "mark": {"type": "line", "color": "#0000ff", "strokeWidth": 1.1},
   "encoding": {
    "x": {"field": "t", "type": "quantitative", "scale": {"domain": [0, 122], "nice": false, "zero": false}, "axis": {"orient": "top", "values": [0, 50, 100], "labels": false, "title": null}},
    "y": {"field": "v", "type": "quantitative", "scale": {"domain": [-0.4, 0.4], "nice": false}, "axis": {"orient": "right", "values": [-0.4, -0.2, 0, 0.2], "labels": false, "title": null}}
   }},
  {"data": {"name": "a2e"}, "mark": {"type": "line", "color": "#ff0000", "strokeWidth": 1.3, "strokeDash": [5, 3]},
   "encoding": {
    "x": {"field": "t", "type": "quantitative", "scale": {"domain": [0, 122], "nice": false, "zero": false}, "axis": null},
    "y": {"field": "v", "type": "quantitative", "scale": {"domain": [-0.4, 0.4], "nice": false}, "axis": null}
   }}
 ]},
{"width": 230, "height": 92,
 "resolve": {"axis": {"x": "independent", "y": "independent"}},
 "layer": [
  {"data": {"name": "a3d"}, "mark": {"type": "line", "color": "#000000", "strokeWidth": 1.6},
   "encoding": {
    "x": {"field": "t", "type": "quantitative", "scale": {"domain": [0, 122], "nice": false, "zero": false}, "axis": {"values": [0, 50, 100], "title": "t⁺"}},
    "y": {"field": "v", "type": "quantitative", "scale": {"domain": [-0.4, 0.4], "nice": false}, "axis": {"values": [-0.4, -0.2, 0, 0.2], "labelExpr": "datum.value + ''", "title": "a₃"}}
   }},
  {"data": {"name": "a3p"}, "mark": {"type": "line", "color": "#0000ff", "strokeWidth": 1.1},
   "encoding": {
    "x": {"field": "t", "type": "quantitative", "scale": {"domain": [0, 122], "nice": false, "zero": false}, "axis": {"orient": "top", "values": [0, 50, 100], "labels": false, "title": null}},
    "y": {"field": "v", "type": "quantitative", "scale": {"domain": [-0.4, 0.4], "nice": false}, "axis": {"orient": "right", "values": [-0.4, -0.2, 0, 0.2], "labels": false, "title": null}}
   }},
  {"data": {"name": "a3e"}, "mark": {"type": "line", "color": "#ff0000", "strokeWidth": 1.3, "strokeDash": [5, 3]},
   "encoding": {
    "x": {"field": "t", "type": "quantitative", "scale": {"domain": [0, 122], "nice": false, "zero": false}, "axis": null},
    "y": {"field": "v", "type": "quantitative", "scale": {"domain": [-0.4, 0.4], "nice": false}, "axis": null}
   }}
 ]},
{"width": 230, "height": 92,
 "resolve": {"axis": {"x": "independent", "y": "independent"}},
 "layer": [
  {"data": {"name": "kd"}, "mark": {"type": "line", "color": "#000000", "strokeWidth": 1.6},
   "encoding": {
    "x": {"field": "t", "type": "quantitative", "scale": {"domain": [0, 122], "nice": false, "zero": false}, "axis": {"values": [0, 50, 100], "title": "t⁺"}},
    "y": {"field": "v", "type": "quantitative", "scale": {"domain": [0, 0.3], "nice": false}, "axis": {"values": [0, 0.1, 0.2, 0.3], "labelExpr": "datum.value + ''", "title": "k"}}
   }},
  {"data": {"name": "kp"}, "mark": {"type": "line", "color": "#0000ff", "strokeWidth": 1.1},
   "encoding": {
    "x": {"field": "t", "type": "quantitative", "scale": {"domain": [0, 122], "nice": false, "zero": false}, "axis": {"orient": "top", "values": [0, 50, 100], "labels": false, "title": null}},
    "y": {"field": "v", "type": "quantitative", "scale": {"domain": [0, 0.3], "nice": false}, "axis": {"orient": "right", "values": [0, 0.1, 0.2, 0.3], "labels": false, "title": null}}
   }},
  {"data": {"name": "ke"}, "mark": {"type": "line", "color": "#ff0000", "strokeWidth": 1.3, "strokeDash": [5, 3]},
   "encoding": {
    "x": {"field": "t", "type": "quantitative", "scale": {"domain": [0, 122], "nice": false, "zero": false}, "axis": null},
    "y": {"field": "v", "type": "quantitative", "scale": {"domain": [0, 0.3], "nice": false}, "axis": null}
   }}
 ]}
],
"config": {
 "view": {"stroke": "#555555", "strokeWidth": 0.8},
 "axis": {"domain": false, "grid": false, "tickSize": -3, "tickColor": "#444444", "tickWidth": 0.8, "labelFont": "Liberation Serif", "labelFontSize": 10.5, "labelColor": "#262626", "labelPadding": 6, "titleFont": "Liberation Serif", "titleFontStyle": "italic", "titleFontWeight": "normal", "titleColor": "#000000"},
 "axisY": {"titleAngle": 0, "titleFontSize": 17, "titleAlign": "right", "titleBaseline": "middle", "titlePadding": 3},
 "axisX": {"titleFontSize": 14, "titlePadding": 1}
}
}
